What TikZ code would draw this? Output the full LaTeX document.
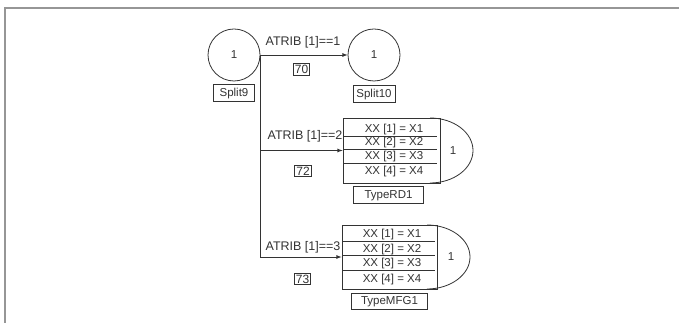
\documentclass[tikz,border=0pt]{standalone}
\usepackage{fontspec}
\setmainfont{Liberation Sans}
\usetikzlibrary{positioning}
\definecolor{ink}{HTML}{333333}
\definecolor{framegray}{HTML}{969696}

\tikzset{
  every node/.style={text=ink, font=\fontsize{11.5}{13}\selectfont},
  station/.style={draw=ink, circle, minimum size=52pt, inner sep=0pt, line width=0.8pt},
  namebox/.style={draw=ink, inner sep=0pt, minimum height=17pt, line width=0.8pt},
  idbox/.style={draw=ink, inner sep=1.5pt, line width=0.7pt, font=\fontsize{12}{13}\selectfont},
  condlabel/.style={font=\fontsize{12.5}{14}\selectfont},
  typeblock/.style={draw=ink, inner sep=0pt, line width=0.8pt},
  flow/.style={draw=ink, line width=0.8pt, -latex},
  rowline/.style={draw=ink, line width=0.7pt},
}

\begin{document}
\begin{tikzpicture}[x=1pt,y=1pt]
    \useasboundingbox (0,0) rectangle (679,323);

    % Frame of the model window
    \draw[framegray, line width=1.4pt] (5,0) -- (5,315) -- (679,315);

    % Split stations
    \node[station] (split9) at (234,268) {1};
    \node[namebox, minimum width=41pt, below=3pt of split9] (name9) {Split9};
    \node[station] (split10) at (374,268) {1};
    \node[namebox, minimum width=42pt, below=4pt of split10] (name10) {Split10};

    % TypeRD1 block: table with a round cap on the right
    \node[typeblock, minimum width=97pt, minimum height=65pt] (rd1) at (391.5,172.5) {};
    \draw[ink, line width=0.8pt] (430,205) arc[start angle=90, end angle=-90, x radius=43, y radius=32.5];
    \node (rdrow1) at (394,193) {XX [1] = X1};
    \node (rdrow2) at (394,180) {XX [2] = X2};
    \node (rdrow3) at (394,166) {XX [3] = X3};
    \node (rdrow4) at (394,151) {XX [4] = X4};
    \draw[rowline] (343,187) -- (437,187);
    \draw[rowline] (343,174) -- (437,174);
    \draw[rowline] (343,160) -- (437,160);
    \node (rdcount) at (453,172) {1};
    \node[namebox, minimum width=70pt, below=3pt of rd1, xshift=-3pt] (namerd) {TypeRD1};

    % TypeMFG1 block
    \node[typeblock, minimum width=95pt, minimum height=64pt] (mfg1) at (389.5,66) {};
    \draw[ink, line width=0.8pt] (427,98) arc[start angle=90, end angle=-90, x radius=43, y radius=32];
    \node (mfgrow1) at (392,88) {XX [1] = X1};
    \node (mfgrow2) at (392,73) {XX [2] = X2};
    \node (mfgrow3) at (392,59) {XX [3] = X3};
    \node (mfgrow4) at (392,43) {XX [4] = X4};
    \draw[rowline] (342,82) -- (435,82);
    \draw[rowline] (342,68) -- (435,68);
    \draw[rowline] (342,53) -- (435,53);
    \node (mfgcount) at (451,66) {1};
    \node[namebox, minimum width=76pt, minimum height=16pt, below=4pt of mfg1] (namemfg) {TypeMFG1};

    % Routing out of Split9
    \draw[flow] (split9.east) -- (split10.west);
    \draw[flow] (split9.east) |- (rd1.west);
    \draw[flow] (split9.east) |- (mfg1.west);

    % Branch conditions and their numbers
    \node[condlabel] (cond1) at (303,281) {ATRIB [1]==1};
    \node[idbox] (id70) at (301.5,253.5) {70};
    \node[condlabel] (cond2) at (305,187) {ATRIB [1]==2};
    \node[idbox] (id72) at (303,152) {72};
    \node[condlabel] (cond3) at (303,76) {ATRIB [1]==3};
    \node[idbox] (id73) at (302.5,44) {73};

\end{tikzpicture}
\end{document}
